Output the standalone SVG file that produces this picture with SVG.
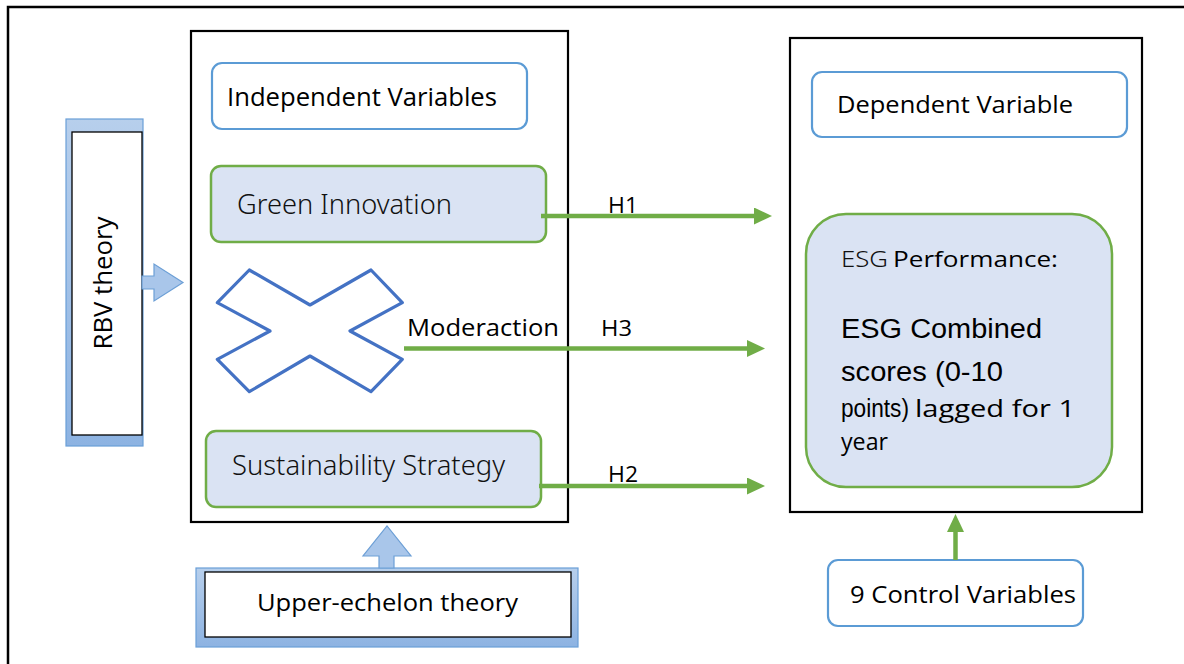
<svg xmlns="http://www.w3.org/2000/svg" width="1184" height="664" viewBox="0 0 1184 664">
<defs>
<style>
.frame{fill:none;stroke:#000;stroke-width:2.5}
.box{fill:#fff;stroke:#000;stroke-width:2.2}
.blue{fill:#fff;stroke:#5B9BD5;stroke-width:2.2}
.green{fill:#DAE3F3;stroke:#70AD47;stroke-width:2.5}
.theory{fill:url(#tg);stroke:#6A9FD8;stroke-width:1.2}
.inner{fill:#fff;stroke:#000;stroke-width:1.3}
.barrow{fill:#A9C6EA;stroke:#6C9FD6;stroke-width:1.2}
.garrow{stroke:#70AD47;stroke-width:4.5;fill:none}
.t{font-family:"Open Sans","Noto Sans",sans-serif;fill:#000}
.y{font-family:"Noto Sans","Open Sans",sans-serif;font-weight:300;fill:#111}
.a{font-family:"Liberation Sans",Arial,sans-serif;fill:#000}
</style>
<linearGradient id="tg" x1="0" y1="0" x2="0" y2="1">
<stop offset="0" stop-color="#B7CFEC"/>
<stop offset="1" stop-color="#8DB3E2"/>
</linearGradient>
<marker id="gh" markerUnits="userSpaceOnUse" markerWidth="18" markerHeight="18" refX="8" refY="8.5" orient="auto">
<path d="M0,0 L18,8.5 L0,17 z" fill="#70AD47"/>
</marker>
</defs>
<rect width="1184" height="664" fill="#fff"/>
<rect class="frame" x="8" y="7" width="1200" height="700"/>

<g id="independent-block">
<rect class="box" x="191" y="31" width="377" height="491"/>
</g>
<g id="independent-variables">
<rect class="blue" x="212" y="63" width="315" height="66" rx="10"/>
<text class="t" x="227" y="106" font-size="25" textLength="270" lengthAdjust="spacingAndGlyphs">Independent Variables</text>
</g>
<g id="green-innovation">
<rect class="green" x="211" y="166" width="335" height="76" rx="10"/>
<text class="y" x="237" y="214" font-size="27" textLength="215" lengthAdjust="spacingAndGlyphs">Green Innovation</text>
</g>
<g id="moderation">
<polygon points="249.3,270 310,305 371,270 402.3,302.7 350,331 402.3,359.3 371,391.7 310,356 249.3,391.7 217.3,359.3 270,331 217.3,302.7" fill="#fff" stroke="#4472C4" stroke-width="3.2" stroke-linejoin="round"/>
<text class="t" x="407" y="336" font-size="23" textLength="152" lengthAdjust="spacingAndGlyphs">Moderaction</text>
</g>
<g id="sustainability-strategy">
<rect class="green" x="206" y="431" width="335" height="76" rx="10"/>
<text class="y" x="232" y="475" font-size="27" textLength="273" lengthAdjust="spacingAndGlyphs">Sustainability Strategy</text>
</g>

<g id="rbv-theory">
<rect class="theory" x="66" y="119" width="77" height="327"/>
<rect class="inner" x="72" y="132" width="70" height="303"/>
<text class="t" transform="translate(112,283) rotate(-90)" x="0" y="0" text-anchor="middle" font-size="25" textLength="133" lengthAdjust="spacingAndGlyphs">RBV theory</text>
</g>
<g id="upper-echelon-theory">
<rect class="theory" x="196" y="568" width="382" height="79"/>
<rect class="inner" x="205" y="572" width="366" height="65"/>
<text class="t" x="257" y="611" font-size="23" textLength="261" lengthAdjust="spacingAndGlyphs">Upper-echelon theory</text>
</g>

<g id="dependent-block">
<rect class="box" x="790" y="38" width="352" height="474"/>
</g>
<g id="dependent-variable">
<rect class="blue" x="812" y="72" width="315" height="65" rx="10"/>
<text class="t" x="837" y="113" font-size="23" textLength="236" lengthAdjust="spacingAndGlyphs">Dependent Variable</text>
</g>
<g id="esg-performance">
<rect class="green" x="806" y="214" width="306" height="273" rx="40"/>
<text class="y" x="841" y="267" font-size="21" textLength="47" lengthAdjust="spacingAndGlyphs">ESG</text>
<text class="t" x="893" y="267" font-size="21" textLength="165" lengthAdjust="spacingAndGlyphs">Performance:</text>
<text class="a" x="841" y="338" font-size="27" textLength="201" lengthAdjust="spacingAndGlyphs">ESG Combined</text>
<text class="a" x="841" y="381" font-size="27" textLength="162" lengthAdjust="spacingAndGlyphs">scores (0-10</text>
<text class="a" x="841" y="417" font-size="25" textLength="68" lengthAdjust="spacingAndGlyphs">points)</text>
<text class="t" x="915" y="417" font-size="23" textLength="160" lengthAdjust="spacingAndGlyphs">lagged for 1</text>
<text class="t" x="841" y="450" font-size="23" textLength="47" lengthAdjust="spacingAndGlyphs">year</text>
</g>
<g id="control-variables">
<rect class="blue" x="828" y="560" width="255" height="66" rx="10"/>
<text class="t" x="850" y="603" font-size="24" textLength="226" lengthAdjust="spacingAndGlyphs">9 Control Variables</text>
</g>

<g id="connectors">
<line class="garrow" x1="541" y1="216" x2="762" y2="216" marker-end="url(#gh)"/>
<line class="garrow" x1="404" y1="348.5" x2="755" y2="348.5" marker-end="url(#gh)"/>
<line class="garrow" x1="539" y1="486" x2="755" y2="486" marker-end="url(#gh)"/>
<line class="garrow" x1="955.5" y1="560" x2="955.5" y2="524" stroke-width="5" marker-end="url(#gh)"/>
<polygon class="barrow" points="142,276 154,276 154,264 183,282.5 154,301 154,289 142,289"/>
<polygon class="barrow" points="379,568 379,556 363,556 387,526 411,556 394,556 394,568"/>
<text class="t" x="608" y="213" font-size="22" textLength="30" lengthAdjust="spacingAndGlyphs">H1</text>
<text class="t" x="601" y="336" font-size="22" textLength="31" lengthAdjust="spacingAndGlyphs">H3</text>
<text class="t" x="608" y="482" font-size="22" textLength="30" lengthAdjust="spacingAndGlyphs">H2</text>
</g>
</svg>
